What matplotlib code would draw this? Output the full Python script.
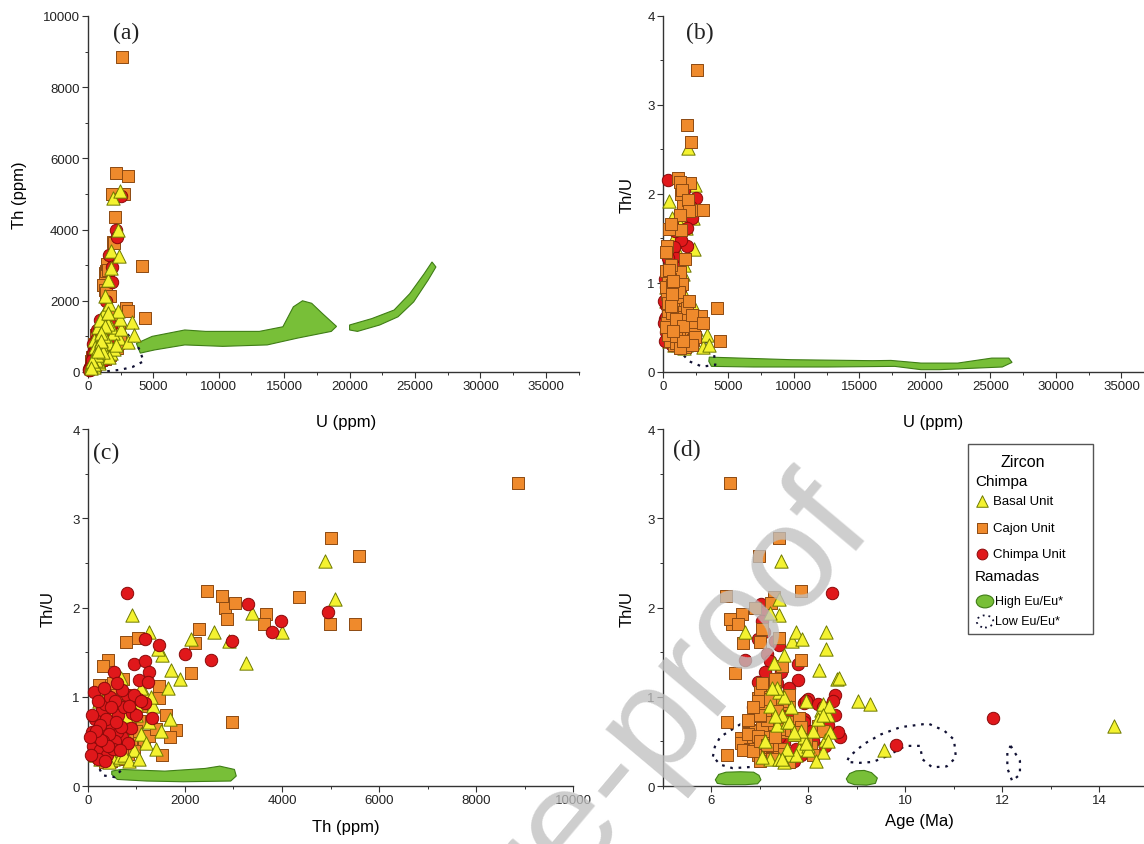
import matplotlib
matplotlib.use('Agg')
import matplotlib.pyplot as plt
from matplotlib.ticker import MultipleLocator
from matplotlib.patches import Rectangle, Ellipse
import numpy as np

plt.rcParams['font.family'] = ['Liberation Sans', 'DejaVu Sans']

# ---- zircon data: Th (ppm), Th/U, age (Ma) ----
basal_th = [4880, 5090, 900, 3390, 4000, 3250, 2590, 2910, 1260, 1520,
            1710, 1900, 2130, 690, 230, 1450, 1000, 300, 400, 1150,
            150, 250, 320, 450, 520, 600, 380, 700, 280, 820,
            950, 1100, 1250, 180, 560, 900, 650, 430, 1000, 1200,
            350, 750, 1350, 1500, 1700, 220, 480, 620, 850, 1400,
            300, 780, 1050, 120, 560, 1300, 1650, 1100, 880, 600]
basal_thu = [2.52, 2.10, 1.92, 1.94, 1.73, 1.38, 1.73, 1.62, 1.73, 1.47,
             1.30, 1.20, 1.65, 1.21, 0.95, 1.53, 0.92, 0.40, 0.67, 1.05,
             0.35, 0.30, 0.42, 0.38, 0.30, 0.45, 0.55, 0.62, 0.68, 0.52,
             0.40, 0.58, 0.72, 0.80, 0.85, 0.88, 0.33, 0.27, 0.80, 0.48,
             0.60, 0.35, 0.90, 0.62, 0.75, 0.50, 0.72, 0.92, 0.28, 0.42,
             0.95, 0.78, 0.30, 0.60, 0.50, 1.00, 1.10, 1.10, 0.90, 0.80]
basal_age = [7.44, 7.40, 7.40, 7.20, 6.69, 7.29, 8.36, 7.67, 7.75, 7.49,
             8.21, 8.59, 7.87, 8.62, 9.03, 8.36, 9.26, 9.56, 14.3, 7.40,
             7.60, 7.20, 7.80, 8.30, 7.40, 8.00, 7.90, 8.10, 7.35, 8.35,
             8.00, 7.70, 7.55, 7.45, 8.25, 7.65, 7.05, 7.50, 8.40, 7.95,
             8.45, 7.75, 7.20, 7.85, 8.20, 7.10, 7.60, 8.30, 8.15, 7.55,
             7.95, 7.30, 7.45, 7.70, 8.40, 7.50, 7.35, 7.25, 8.42, 8.30]

cajon_th = [8860, 5000, 5590, 4990, 5510, 4360, 2450, 2770, 2830, 3030,
            2870, 3660, 3630, 2290, 2210, 2130, 2970, 1810, 1520, 1460,
            1460, 790, 1030, 420, 230, 480, 1105, 1030, 600, 350,
            720, 520, 300, 300, 420, 560, 250, 680, 350, 480,
            610, 720, 200, 390, 520, 840, 450, 300, 650, 760,
            880, 150, 330, 470, 590, 700, 260, 380, 540, 820,
            950, 410, 630, 290, 500, 750, 170, 360, 900, 1000,
            1150, 1250, 1300, 950, 1100, 660, 530, 440, 120, 230,
            700, 580, 800, 340, 460, 1400, 1600, 1700, 820, 640]
cajon_thu = [3.39, 2.78, 2.58, 1.82, 1.82, 2.12, 2.18, 2.13, 2.00, 2.05,
             1.87, 1.93, 1.81, 1.76, 1.60, 1.27, 0.72, 0.63, 0.35, 1.12,
             0.99, 1.61, 1.66, 1.41, 1.13, 1.13, 0.73, 0.54, 1.05, 1.00,
             1.20, 1.15, 1.35, 0.45, 0.52, 0.38, 0.30, 0.62, 0.70, 0.55,
             0.48, 0.41, 0.35, 0.60, 0.68, 0.74, 0.82, 0.88, 0.92, 0.57,
             0.45, 0.42, 0.33, 0.28, 0.76, 0.85, 0.63, 0.50, 0.44, 0.36,
             0.58, 0.40, 0.55, 0.78, 0.95, 0.67, 0.55, 0.27, 0.84, 0.62,
             0.48, 0.56, 0.72, 0.39, 0.90, 0.30, 0.35, 0.66, 0.50, 0.95,
             0.98, 0.60, 0.52, 0.46, 0.74, 0.64, 0.80, 0.55, 1.02, 0.88]
cajon_age = [6.39, 7.40, 6.98, 6.49, 6.42, 7.29, 7.84, 6.30, 6.90, 7.22,
             6.38, 6.62, 6.55, 7.05, 6.65, 6.48, 6.32, 6.80, 6.33, 7.25,
             6.95, 7.00, 7.40, 7.85, 7.10, 7.30, 6.75, 6.60, 7.00, 7.20,
             7.30, 7.05, 7.45, 6.70, 6.85, 7.00, 7.10, 6.90, 7.20, 7.30,
             6.60, 7.45, 6.95, 7.55, 7.05, 7.15, 7.35, 6.90, 7.60, 7.70,
             7.25, 6.80, 7.40, 7.00, 7.80, 7.10, 7.65, 7.90, 8.05, 7.50,
             6.75, 6.65, 7.20, 7.00, 7.45, 8.20, 7.30, 7.60, 7.35, 8.30,
             7.15, 6.95, 7.55, 6.85, 7.05, 7.25, 8.10, 7.85, 7.00, 6.95,
             7.20, 7.75, 7.95, 7.15, 6.75, 7.40, 7.00, 7.30, 7.60, 6.85]

chimpa_th = [800, 3290, 4950, 3980, 3790, 2960, 2540, 2000, 1460, 1180,
             950, 1180, 1260, 1050, 1230, 530, 800, 1030, 1180, 1320,
             890, 450, 700, 600, 100, 180, 250, 320, 400, 470,
             550, 620, 150, 280, 360, 90, 210, 430, 510, 680,
             740, 820, 60, 300, 380, 450, 560, 650, 130, 240,
             900, 350, 700, 480, 80, 200, 420, 580, 260, 160,
             50, 330, 600, 950, 1100, 1000, 850]
chimpa_thu = [2.16, 2.04, 1.95, 1.85, 1.73, 1.62, 1.41, 1.48, 1.58, 1.65,
              1.37, 1.40, 1.28, 1.19, 1.17, 1.28, 1.02, 0.97, 0.93, 0.76,
              0.65, 0.46, 0.55, 0.60, 0.45, 0.55, 0.40, 0.62, 0.35, 0.70,
              0.50, 0.80, 0.75, 0.85, 0.92, 0.60, 0.30, 0.58, 0.42, 0.66,
              0.88, 0.48, 0.35, 0.50, 0.75, 1.00, 0.95, 0.40, 1.05, 0.68,
              0.82, 0.28, 1.08, 0.88, 0.80, 0.95, 0.45, 0.72, 0.52, 0.62,
              0.55, 1.10, 1.15, 1.02, 0.95, 0.80, 0.90]
chimpa_age = [8.48, 7.02, 7.10, 7.05, 7.08, 7.30, 6.70, 7.15, 7.40, 6.95,
              7.78, 7.20, 7.44, 7.78, 6.95, 7.10, 8.54, 8.00, 7.90, 11.8,
              8.23, 9.81, 8.65, 8.60, 7.30, 7.50, 7.00, 7.80, 7.20, 7.60,
              8.10, 7.40, 7.90, 7.10, 8.20, 7.65, 7.35, 7.05, 7.75, 7.25,
              8.30, 7.50, 7.85, 6.90, 7.45, 7.30, 7.95, 8.00, 7.15, 8.40,
              7.60, 7.70, 7.20, 6.85, 7.55, 7.00, 8.35, 7.90, 7.25, 8.05,
              7.40, 7.60, 7.35, 7.05, 8.50, 8.55, 7.45]

# ---- Ramadas fields (outlines) ----
high_a1_u = [3700, 4900, 7400, 9000, 13100, 14900, 15700, 16400, 17100, 17900, 19000, 18600, 16000, 13700, 10300, 7400, 5100, 4000]
high_a1_th = [800, 1000, 1180, 1140, 1140, 1270, 1830, 2000, 1930, 1650, 1280, 1140, 950, 760, 720, 760, 620, 530]
high_a2_u = [20000, 21700, 23400, 24600, 25700, 26300, 26600, 26000, 24900, 23700, 22300, 20600, 20000]
high_a2_th = [1320, 1500, 1740, 2200, 2760, 3090, 2950, 2580, 1970, 1550, 1320, 1140, 1180]
low_a_u = [300, 1200, 2000, 2900, 3600, 3950, 4250, 3400, 2450, 1200]
low_a_th = [50, 700, 1150, 1100, 850, 620, 300, 140, 60, 10]

high_b_u = [3500, 3540, 9800, 16000, 17400, 19700, 22500, 25100, 26400, 26650, 25900, 21100, 19700, 17700, 12600, 6900, 3700]
high_b_thu = [0.12, 0.167, 0.138, 0.127, 0.13, 0.10, 0.10, 0.156, 0.156, 0.108, 0.056, 0.026, 0.026, 0.063, 0.056, 0.056, 0.063]
low_b_u = [1200, 2000, 2700, 3300, 3900, 4000, 3000, 2000, 1200]
low_b_thu = [0.55, 0.50, 0.47, 0.33, 0.20, 0.08, 0.06, 0.12, 0.25]

high_c_th = [490, 680, 1585, 2415, 2717, 3019, 3057, 2943, 1962, 1208, 604, 490]
high_c_thu = [0.167, 0.186, 0.167, 0.197, 0.223, 0.186, 0.112, 0.056, 0.048, 0.056, 0.074, 0.13]
low_c_th = [100, 400, 800, 1100, 900, 550, 300, 150]
low_c_thu = [0.60, 0.62, 0.55, 0.45, 0.30, 0.10, 0.12, 0.30]

high_d1_age = [6.08, 6.15, 6.30, 6.60, 6.87, 6.98, 7.02, 6.95, 6.70, 6.30, 6.12]
high_d1_thu = [0.07, 0.13, 0.155, 0.16, 0.155, 0.12, 0.07, 0.025, 0.015, 0.015, 0.03]
high_d2_age = [8.78, 8.85, 8.98, 9.15, 9.30, 9.42, 9.38, 9.20, 8.95, 8.82]
high_d2_thu = [0.08, 0.14, 0.17, 0.175, 0.15, 0.09, 0.03, 0.01, 0.015, 0.04]
low_d1_age = [6.03, 6.07, 6.18, 6.59, 7.00, 7.20, 7.00, 6.44, 6.18]
low_d1_thu = [0.33, 0.44, 0.55, 0.69, 0.65, 0.45, 0.22, 0.20, 0.24]
low_d2_age = [9.60, 10.0, 10.30, 10.35, 10.55, 10.85, 11.04, 11.0, 10.8, 10.47, 9.9, 9.5, 9.14, 8.84, 8.79, 9.06, 9.33]
low_d2_thu = [0.33, 0.45, 0.45, 0.30, 0.21, 0.22, 0.32, 0.52, 0.62, 0.70, 0.66, 0.58, 0.47, 0.33, 0.27, 0.26, 0.27]
low_d3_age = [12.17, 12.36, 12.36, 12.20, 12.10, 12.10]
low_d3_thu = [0.45, 0.28, 0.13, 0.056, 0.20, 0.39]

units = {
    'basal': dict(th=np.array(basal_th), thu=np.array(basal_thu), age=np.array(basal_age),
                  marker='^', fc='#f4f230', ec='#6f7a00', s=92),
    'cajon': dict(th=np.array(cajon_th), thu=np.array(cajon_thu), age=np.array(cajon_age),
                  marker='s', fc='#ef8a2c', ec='#8c4a12', s=74),
    'chimpa': dict(th=np.array(chimpa_th), thu=np.array(chimpa_thu), age=np.array(chimpa_age),
                   marker='o', fc='#e0181b', ec='#8a0a0a', s=80),
}
for d in units.values():
    d['u'] = d['th'] / d['thu']

GREEN = '#78bf38'
GREEN_EDGE = '#3f7d16'


def green(ax, x, y):
    ax.fill(x, y, fc=GREEN, ec=GREEN_EDGE, lw=0.8, zorder=1)


def dotted(ax, x, y):
    ax.plot(list(x) + [x[0]], list(y) + [y[0]], color='#111133', lw=1.6,
            ls=(0, (1.2, 2.6)), zorder=1.5)


def points(ax, order, xkey, ykey):
    for z, name in enumerate(order):
        d = units[name]
        ax.scatter(d[xkey], d[ykey], marker=d['marker'], s=d['s'], c=d['fc'],
                   edgecolors=d['ec'], linewidths=0.7, zorder=3 + z, clip_on=False)


def style(ax, xlim, ylim, xmaj, xmin, ymaj, ymin):
    ax.set_xlim(xlim)
    ax.set_ylim(ylim)
    for s in ['top', 'right']:
        ax.spines[s].set_visible(False)
    for s in ['left', 'bottom']:
        ax.spines[s].set_color('#333333')
        ax.spines[s].set_linewidth(1.0)
    ax.xaxis.set_major_locator(MultipleLocator(xmaj))
    ax.xaxis.set_minor_locator(MultipleLocator(xmin))
    ax.yaxis.set_major_locator(MultipleLocator(ymaj))
    ax.yaxis.set_minor_locator(MultipleLocator(ymin))
    ax.tick_params(which='major', direction='out', length=4, width=0.8,
                   labelsize=9.5, color='#333333', labelcolor='#222222', pad=2)
    ax.tick_params(which='minor', direction='out', length=2.5, width=0.7, color='#333333')
    ax.set_facecolor('none')


fig = plt.figure(figsize=(11.44, 8.45), dpi=100)
ax_a = fig.add_axes([0.0769, 0.5586, 0.4288, 0.4213])
ax_b = fig.add_axes([0.5795, 0.5586, 0.4294, 0.4213])
ax_c = fig.add_axes([0.0769, 0.0686, 0.4240, 0.4225])
ax_d = fig.add_axes([0.5795, 0.0686, 0.4240, 0.4225])

# (a) Th vs U
green(ax_a, high_a1_u, high_a1_th)
green(ax_a, high_a2_u, high_a2_th)
dotted(ax_a, low_a_u, low_a_th)
points(ax_a, ['cajon', 'chimpa', 'basal'], 'u', 'th')
style(ax_a, (0, 37500), (0, 10000), 5000, 2500, 2000, 1000)
ax_a.set_xlabel('U (ppm)', fontsize=12)
ax_a.set_ylabel('Th (ppm)', fontsize=12)
ax_a.xaxis.set_label_coords(0.527, -0.118)
ax_a.yaxis.set_label_coords(-0.124, 0.5)

# (b) Th/U vs U
green(ax_b, high_b_u, high_b_thu)
dotted(ax_b, low_b_u, low_b_thu)
points(ax_b, ['basal', 'chimpa', 'cajon'], 'u', 'thu')
style(ax_b, (0, 37500), (0, 4), 5000, 2500, 1, 0.5)
ax_b.set_xlabel('U (ppm)', fontsize=12)
ax_b.set_ylabel('Th/U', fontsize=12)
ax_b.xaxis.set_label_coords(0.55, -0.118)
ax_b.yaxis.set_label_coords(-0.057, 0.5)

# (c) Th/U vs Th
green(ax_c, high_c_th, high_c_thu)
dotted(ax_c, low_c_th, low_c_thu)
points(ax_c, ['cajon', 'basal', 'chimpa'], 'th', 'thu')
style(ax_c, (0, 10000), (0, 4), 2000, 1000, 1, 0.5)
ax_c.set_xlabel('Th (ppm)', fontsize=12)
ax_c.set_ylabel('Th/U', fontsize=12)
ax_c.xaxis.set_label_coords(0.532, -0.093)
ax_c.yaxis.set_label_coords(-0.066, 0.5)

# (d) Th/U vs age
green(ax_d, high_d1_age, high_d1_thu)
green(ax_d, high_d2_age, high_d2_thu)
dotted(ax_d, low_d1_age, low_d1_thu)
dotted(ax_d, low_d2_age, low_d2_thu)
dotted(ax_d, low_d3_age, low_d3_thu)
points(ax_d, ['chimpa', 'cajon', 'basal'], 'age', 'thu')
style(ax_d, (5, 15), (0, 4), 2, 1, 1, 0.5)
ax_d.set_xlabel('Age (Ma)', fontsize=12)
ax_d.set_ylabel('Th/U', fontsize=12)
ax_d.xaxis.set_label_coords(0.528, -0.075)
ax_d.yaxis.set_label_coords(-0.058, 0.5)

for ax, lab, x, y in [(ax_a, '(a)', 0.078, 0.955), (ax_b, '(b)', 0.076, 0.955),
                      (ax_c, '(c)', 0.038, 0.935), (ax_d, '(d)', 0.05, 0.944)]:
    ax.text(x, y, lab, transform=ax.transAxes, ha='center', va='center',
            fontsize=17, family='Liberation Serif', color='#222222')

# legend box in (d)
T = ax_d.transAxes
ax_d.add_patch(Rectangle((0.629, 0.425), 0.258, 0.533, transform=T, fill=False,
                         ec='#555555', lw=1.0, zorder=10))
ax_d.text(0.742, 0.910, 'Zircon', transform=T, ha='center', va='center', fontsize=11.5, zorder=11)
ax_d.text(0.643, 0.854, 'Chimpa', transform=T, ha='left', va='center', fontsize=11, zorder=11)
ax_d.text(0.643, 0.587, 'Ramadas', transform=T, ha='left', va='center', fontsize=11, zorder=11)
entries = [('basal', 'Basal Unit', 0.798), ('cajon', 'Cajon Unit', 0.722),
           ('chimpa', 'Chimpa Unit', 0.649)]
for name, label, y in entries:
    d = units[name]
    ax_d.scatter([0.658], [y], transform=T, marker=d['marker'], s=d['s'] * 0.75,
                 c=d['fc'], edgecolors=d['ec'], linewidths=0.7, zorder=11, clip_on=False)
    ax_d.text(0.680, y, label, transform=T, ha='left', va='center', fontsize=9.5, zorder=11)
ax_d.add_patch(Ellipse((0.664, 0.517), 0.036, 0.036, transform=T, fc=GREEN,
                       ec=GREEN_EDGE, lw=0.8, zorder=11))
ax_d.text(0.685, 0.517, 'High Eu/Eu*', transform=T, ha='left', va='center', fontsize=9, zorder=11)
ax_d.add_patch(Ellipse((0.664, 0.461), 0.034, 0.034, transform=T, fill=False,
                       ec='#111133', lw=1.3, ls=(0, (1, 2.2)), zorder=11))
ax_d.text(0.685, 0.461, 'Low Eu/Eu*', transform=T, ha='left', va='center', fontsize=9, zorder=11)

# watermark
fig.text(0.765, 0.373, 'Journal Pre-proof', rotation=50, rotation_mode='anchor',
         ha='right', va='baseline', fontsize=106, color='#c0c0c0', alpha=0.78, zorder=20)

fig.savefig('out.png', dpi=100)
